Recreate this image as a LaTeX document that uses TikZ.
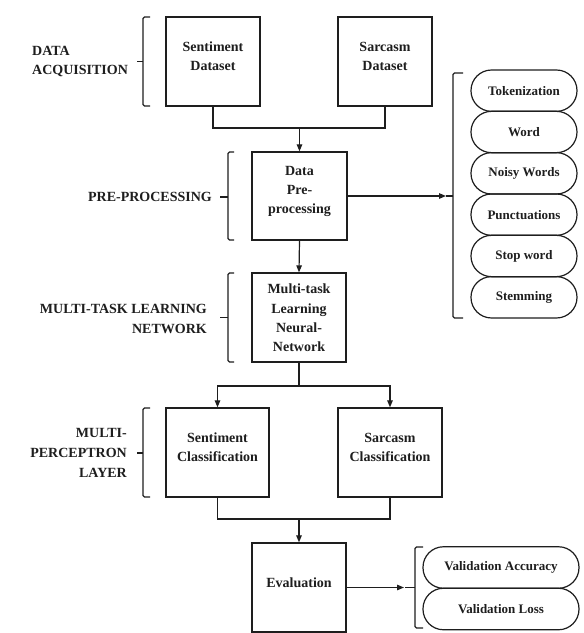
\documentclass[tikz,border=0pt]{standalone}
\usepackage{fontspec}
\setmainfont{Liberation Serif}
\usetikzlibrary{arrows.meta}
\definecolor{ink}{HTML}{1E1E1E}
\begin{document}
\begin{tikzpicture}[x=1pt,y=-1pt,
  box/.style={draw=ink,line width=1.3pt,rectangle,inner sep=0pt},
  boxtext/.style={text=ink,align=center,inner sep=0pt,font=\bfseries\fontsize{14}{19.2}\selectfont},
  sidelabel/.style={text=ink,inner sep=0pt,font=\bfseries\fontsize{14}{19.6}\selectfont},
  pill/.style={draw=ink,line width=1.2pt,rectangle,rounded corners=20.5pt,inner sep=0pt,
    text=ink,font=\bfseries\fontsize{13}{15}\selectfont},
  conn/.style={draw=ink,line width=1.2pt},
  arr/.style={conn,-{Triangle[length=7pt,width=5.5pt]}},
  bracket/.style={draw=ink,line width=1.1pt,rounded corners=1.5pt}]
\useasboundingbox (0,0) rectangle (584,633);
\fill[white] (0,0) rectangle (584,633);

% ---- main boxes
\node[box,minimum width=94pt,minimum height=89pt] (sd) at (213,61.5) {};
\node[box,minimum width=94pt,minimum height=89pt] (sr) at (385,61.5) {};
\node[box,minimum width=95pt,minimum height=88pt] (dp) at (299.5,196) {};
\node[box,minimum width=94pt,minimum height=89pt] (mtl) at (299,317.5) {};
\node[box,minimum width=103pt,minimum height=89pt] (sc) at (217.5,452.5) {};
\node[box,minimum width=104pt,minimum height=89pt] (rc) at (390,452.5) {};
\node[box,minimum width=94pt,minimum height=89pt] (ev) at (299,587.5) {};

\node[boxtext] (sdt) at (213,56.5) {Sentiment\\Dataset};
\node[boxtext] (srt) at (385,56.5) {Sarcasm\\Dataset};
\node[boxtext] (dpt) at (299.5,191.5) {Data\\Pre-\\processing};
\node[boxtext] (mtlt) at (299,318) {Multi-task\\Learning\\Neural-\\Network};
\node[boxtext] (sct) at (217.5,447.5) {Sentiment\\Classification};
\node[boxtext] (rct) at (390,447.5) {Sarcasm\\Classification};
\node[boxtext] (evt) at (299,582.5) {Evaluation};

% ---- side labels
\node[sidelabel,anchor=west,align=left] (l1) at (32,61.5) {DATA\\ACQUISITION};
\node[sidelabel,anchor=east] (l2) at (212,197) {PRE-PROCESSING};
\node[sidelabel,anchor=east,align=right] (l3) at (207,319) {MULTI-TASK LEARNING\\NETWORK};
\node[sidelabel,anchor=east,align=right] (l4) at (127,453) {MULTI-\\PERCEPTRON\\LAYER};

% ---- pills
\foreach \t [count=\i] in {Tokenization,Word,Noisy Words,Punctuations,Stop word,Stemming}{
  \node[pill,minimum width=106pt,minimum height=41.33pt] (p\i) at (524,{70+41.33*(\i-0.5)}) {\t};
}
\node[pill,minimum width=156pt,minimum height=41.5pt] (va) at (501,567.5) {Validation Accuracy};
\node[pill,minimum width=156pt,minimum height=41.5pt] (vl) at (501,609) {Validation Loss};

% ---- brackets
\draw[bracket] (150,17) -- (143,17) -- (143,106) -- (150,106);
\draw[bracket] (137,61.5) -- (143,61.5);
\draw[bracket] (234,152) -- (228,152) -- (228,240) -- (234,240);
\draw[bracket] (220,197) -- (228,197);
\draw[bracket] (234,273) -- (228,273) -- (228,362) -- (234,362);
\draw[bracket] (220,317.5) -- (228,317.5);
\draw[bracket] (150,408) -- (143,408) -- (143,497) -- (150,497);
\draw[bracket] (137,453) -- (143,453);
\draw[bracket] (463,73) -- (453,73) -- (453,318) -- (463,318);
\draw[bracket] (446,196) -- (453,196);
\draw[bracket] (423,547) -- (415,547) -- (415,628) -- (423,628);
\draw[bracket] (405,587.5) -- (415,587.5);

% ---- connectors
\coordinate (j1) at (299.5,128);
\coordinate (j2) at (299,386);
\coordinate (j3) at (299,519);
\coordinate (b1) at (446,196);
\coordinate (b2) at (404,587.5);

\draw[conn] (sd.south) |- (j1) -| (sr.south);
\draw[arr] (j1) -- (dp.north);
\draw[arr] (dp.east) -- (b1);
\draw[arr] (dp.south) -- (mtl.north);
\draw[conn] (mtl.south) -- (j2);
\draw[arr] (j2) -| (sc.north);
\draw[arr] (j2) -| (rc.north);
\draw[conn] (sc.south) |- (j3) -| (rc.south);
\draw[arr] (j3) -- (ev.north);
\draw[arr] (ev.east) -- (b2);
\end{tikzpicture}
\end{document}
